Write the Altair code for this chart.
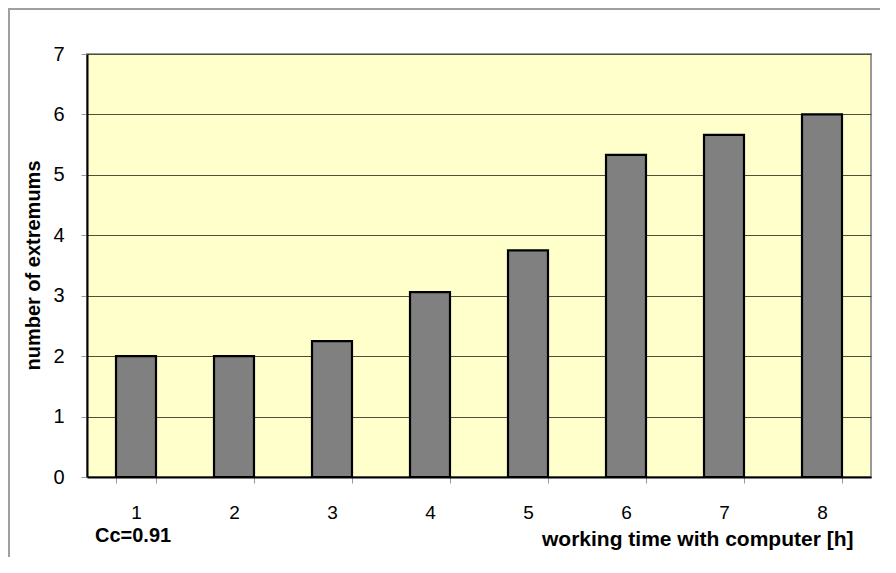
import altair as alt
import pandas as pd

hours = ["1", "2", "3", "4", "5", "6", "7", "8"]
extremums = [2.0, 2.0, 2.25, 3.06, 3.75, 5.33, 5.66, 6.0]
y_ticks = [0, 1, 2, 3, 4, 5, 6, 7]
x_title = "working time with computer [h]"
y_title = "number of extremums"
note = "Cc=0.91"

df = pd.DataFrame({"hours": hours, "extremums": extremums})

W, H = 784, 423
FONT = "Liberation Sans"

bars = alt.Chart(df).mark_bar(
    fill="#808080", stroke="#000000", strokeWidth=2.2
).encode(
    x=alt.X(
        "hours:N",
        sort=hours,
        scale=alt.Scale(paddingInner=0.592, paddingOuter=0.296),
        axis=alt.Axis(
            title=x_title,
            labelAngle=0,
            labelFont=FONT,
            labelFontSize=19,
            labelColor="#000000",
            labelPadding=20,
            tickBand="extent",
            tickSize=6,
            tickColor="#999999",
            tickWidth=1,
            domainColor="#000000",
            domainWidth=2,
            titleFont=FONT,
            titleFontSize=21,
            titleFontWeight="bold",
            titleColor="#000000",
            titleAlign="right",
            titleAnchor="end",
            titleBaseline="middle",
            titleX=766,
            titleY=62,
        ),
    ),
    y=alt.Y(
        "extremums:Q",
        scale=alt.Scale(domain=[0, 7], nice=False),
        axis=alt.Axis(
            title=y_title,
            values=y_ticks,
            labelFont=FONT,
            labelFontSize=20,
            labelColor="#000000",
            labelPadding=17,
            tickSize=6,
            tickColor="#999999",
            tickWidth=1,
            domainColor="#000000",
            domainWidth=2,
            grid=True,
            gridColor="#4f4f3c",
            gridWidth=1,
            titleFont=FONT,
            titleFontSize=20,
            titleFontWeight="bold",
            titleColor="#000000",
            titleAngle=270,
            titleAlign="center",
            titleBaseline="middle",
            titleX=-54,
            titleY=211,
        ),
    ),
)

note_df = pd.DataFrame({"label": [note]})
note_text = alt.Chart(note_df).mark_text(
    align="left", baseline="middle", font=FONT, fontSize=20, fontWeight="bold", color="#000000"
).encode(
    text="label:N",
    x=alt.value(8),
    y=alt.value(482),
)

frame = alt.Chart(note_df).mark_rect(
    fillOpacity=0, stroke="#a0a0a0", strokeWidth=2, clip=False
).encode(
    x=alt.value(-78),
    x2=alt.value(W + 60),
    y=alt.value(-45),
    y2=alt.value(H + 200),
)

chart = alt.layer(frame, bars, note_text).properties(
    width=W,
    height=H,
    padding={"left": 79, "top": 46, "right": 9, "bottom": 80},
    autosize=alt.AutoSizeParams(type="none"),
).configure(
    background="#FFFFFF",
    view=alt.ViewConfig(fill="#FFFFCC", stroke="#999999", strokeWidth=2),
)

chart.save("out.html", embed_options={"renderer": "svg", "actions": False})
